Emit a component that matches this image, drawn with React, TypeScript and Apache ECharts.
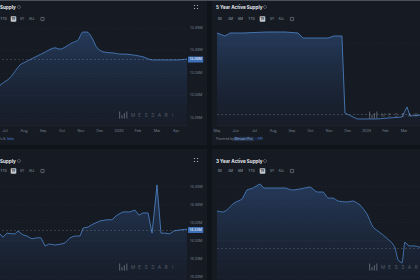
import React, { useEffect, useRef } from 'react';
import * as echarts from 'echarts';

// ---------------- Data ----------------
// Top-left: Supply (1Y view), x = months since Jul
const tlTitle = 'Supply';
const tlButtons = ['YTD', '1Y', '5Y', 'ALL'];
const tlMonths = ['Jun', 'Jul', 'Aug', 'Sep', 'Oct', 'Nov', 'Dec', '2020', 'Feb', 'Mar', 'Apr'];
const tlX = [-0.3, -0.26, 0.26, 0.79, 1.05, 1.47, 2.0, 2.63, 2.89, 3.53, 3.84, 4.1, 4.32, 4.58, 4.84, 5.16, 5.79, 6.05, 6.32, 6.74, 7.26, 7.74, 8.16, 9.05, 9.58];
const tlY = [13.318, 13.323, 13.339, 13.368, 13.374, 13.383, 13.394, 13.406, 13.403, 13.417, 13.423, 13.441, 13.441, 13.428, 13.406, 13.397, 13.394, 13.392, 13.392, 13.39, 13.386, 13.379, 13.379, 13.379, 13.381];

// Top-right: 5 Year Active Supply (1Y view), x = months since May
const trTitle = '5 Year Active Supply';
const trButtons = ['1M', '3M', '6M', 'YTD', '1Y', '5Y', 'ALL'];
const trMonths = ['May', 'Jun', 'Jul', 'Aug', 'Sep', 'Oct', 'Nov', 'Dec', '2024', 'Feb', 'Mar'];
const trX = [0, 0.43, 0.7, 1.39, 2.67, 3.64, 4.33, 4.6, 5.94, 6.26, 6.68, 6.84, 7.49, 8.56, 9.89, 10.16, 10.32, 10.96];
const trY = [12.141, 12.099, 12.141, 12.141, 12.155, 12.155, 12.141, 12.07, 12.07, 12.099, 12.099, 11.014, 10.93, 10.93, 10.958, 11.099, 10.972, 10.986];

// Bottom-left: Supply (1Y view)
const blTitle = 'Supply';
const blButtons = ['YTD', '1Y', '5Y', 'ALL'];
const blX = [-0.3, -0.26, -0.11, 0.11, 0.37, 0.53, 0.68, 0.95, 1.16, 1.42, 1.68, 1.89, 2.11, 2.32, 2.63, 3.0, 3.16, 3.42, 3.68, 3.95, 4.11, 4.37, 4.63, 5.0, 5.37, 5.63, 5.89, 6.21, 6.58, 6.84, 7.05, 7.26, 7.53, 7.74, 8.0, 8.21, 8.42, 8.68, 8.89, 9.21, 9.58];
const blY = [14.319, 14.319, 14.31, 14.321, 14.319, 14.319, 14.327, 14.316, 14.313, 14.305, 14.308, 14.308, 14.285, 14.291, 14.288, 14.291, 14.294, 14.308, 14.313, 14.313, 14.335, 14.338, 14.346, 14.355, 14.358, 14.358, 14.371, 14.38, 14.38, 14.385, 14.371, 14.377, 14.377, 14.321, 14.455, 14.321, 14.321, 14.319, 14.327, 14.33, 14.332];

// Bottom-right: 3 Year Active Supply (1Y view)
const brTitle = '3 Year Active Supply';
const brButtons = ['1M', '3M', '6M', 'YTD', '1Y', '5Y', 'ALL'];
const brX = [0, 0.32, 0.53, 0.91, 1.34, 1.6, 1.93, 2.3, 2.51, 2.99, 3.64, 4.01, 4.44, 4.97, 5.35, 5.67, 5.94, 6.2, 6.47, 6.95, 7.27, 7.65, 8.02, 8.34, 8.88, 9.36, 9.52, 9.68, 9.89, 10.05, 10.27, 10.59, 10.96];
const brY = [11.825, 11.797, 11.853, 12.047, 12.158, 12.408, 12.464, 12.575, 12.464, 12.464, 12.464, 12.408, 12.436, 12.492, 12.353, 12.353, 12.186, 12.186, 12.103, 12.075, 12.103, 11.992, 11.742, 11.381, 11.158, 10.936, 10.797, 10.464, 10.381, 10.964, 10.853, 10.853, 10.797];

const watermarkLetters = 'MESSARI';

// ---------------- Layout / style ----------------
const FONT = 'Inter, "Noto Sans", sans-serif';
const PAGE_BG = '#0f131a';
const PANEL_BG = '#151a23';
const LINE = '#4f86cc';

const panels: any[] = [
  {
    title: tlTitle, buttons: tlButtons, months: tlMonths, xs: tlX, ys: tlY,
    grid: { left: -14, top: 22, width: 201, height: 103 }, xMin: -1, xMax: 9.579,
    yMin: 13.2344, yMax: 13.4633, yStep: 0.05, showY: true, smooth: 0.25,
    rect: [-2, 1, 209, 144], titleX: 0, titleY: 7, iconX: 19, btnY: 19,
    btnX: [3.5, 13.5, 22, 32], calX: 42.5, hi: 1, expand: [196, 7], wm: [119, 115],
    footer: 'tl', footerY: 139,
  },
  {
    title: trTitle, buttons: trButtons, months: trMonths, xs: trX, ys: trY,
    grid: { left: 217, top: 25, width: 205, height: 100 }, xMin: 0, xMax: 10.96,
    yMin: 10.845, yMax: 12.2535, yStep: 1, showY: false, smooth: 0,
    rect: [212, 1, 210, 144], titleX: 216, titleY: 7, iconX: 265, btnY: 19,
    btnX: [219.5, 230.5, 240.5, 251.5, 262.5, 272, 281.5], calX: 292, hi: 4, expand: null, wm: [369, 115],
    footer: 'tr', footerY: 139,
  },
  {
    title: blTitle, buttons: blButtons, months: null, xs: blX, ys: blY,
    grid: { left: -14, top: 180, width: 201, height: 105 }, xMin: -1, xMax: 9.579,
    yMin: 14.1769, yMax: 14.4686, yStep: 0.05, showY: true, smooth: 0,
    rect: [-2, 149, 209, 135], titleX: 0, titleY: 161, iconX: 19, btnY: 171,
    btnX: [3.5, 13.5, 22, 32], calX: 42.5, hi: 1, expand: [196, 160], wm: [119, 267],
    footer: null,
  },
  {
    title: brTitle, buttons: brButtons, months: null, xs: brX, ys: brY,
    grid: { left: 217, top: 180, width: 205, height: 105 }, xMin: 0, xMax: 10.96,
    yMin: 9.769, yMax: 12.686, yStep: 0.5, showY: false, smooth: 0.15,
    rect: [212, 149, 210, 135], titleX: 216, titleY: 161, iconX: 265, btnY: 171,
    btnX: [219.5, 230.5, 240.5, 251.5, 262.5, 272, 281.5], calX: 292, hi: 4, expand: null, wm: [369, 267],
    footer: null,
  },
];

function txt(text: string, x: number, y: number, opts: any = {}) {
  return {
    type: 'text', x, y, z: 20, silent: true,
    style: {
      text, fill: opts.fill || '#9ba3af', fontSize: opts.size || 3.4,
      fontWeight: opts.weight || 'normal', fontFamily: FONT,
      align: opts.align || 'center', verticalAlign: 'middle',
    },
  };
}

function buildGraphics() {
  const g: any[] = [];
  g.push({ type: 'rect', z: 1, shape: { x: 0, y: 0, width: 420, height: 1 }, style: { fill: '#4b515b' } });
  panels.forEach((p) => {
    const [rx, ry, rw, rh] = p.rect;
    g.push({ type: 'rect', z: 0, silent: true, shape: { x: rx, y: ry, width: rw, height: rh }, style: { fill: PANEL_BG } });
    g.push(txt(p.title, p.titleX, p.titleY, { fill: '#e6e9ee', size: 4.6, weight: 'bold', align: 'left' }));
    g.push({ type: 'circle', z: 20, shape: { cx: p.iconX, cy: p.titleY, r: 1.5 }, style: { fill: 'none', stroke: '#8d95a1', lineWidth: 0.5 } });
    p.buttons.forEach((b: string, i: number) => {
      if (i === p.hi) {
        g.push({ type: 'rect', z: 19, shape: { x: p.btnX[i] - 2.8, y: p.btnY - 2.8, width: 5.6, height: 5.6, r: 0.8 }, style: { fill: '#c3c8d0' } });
        g.push(txt(b, p.btnX[i], p.btnY, { fill: '#151a23', size: 3.2, weight: 'bold' }));
      } else {
        g.push(txt(b, p.btnX[i], p.btnY, { size: 3.2 }));
      }
    });
    g.push({ type: 'rect', z: 20, shape: { x: p.calX - 1.6, y: p.btnY - 1.6, width: 3.2, height: 3.2, r: 0.3 }, style: { fill: 'none', stroke: '#9ba3af', lineWidth: 0.5 } });
    if (p.expand) {
      const [ex, ey] = p.expand;
      [[-2, -2], [1, -2], [-2, 1], [1, 1]].forEach(([dx, dy]) => {
        g.push({ type: 'rect', z: 20, shape: { x: ex + dx, y: ey + dy, width: 1.1, height: 1.1 }, style: { fill: '#aab1bc' } });
      });
    }
    // watermark
    const [wx, wy] = p.wm;
    const bars = [[0, 7], [2.4, 3.5], [4.8, 5.5], [7.2, 7]];
    bars.forEach(([dx, h]) => {
      g.push({ type: 'rect', z: 20, silent: true, shape: { x: wx + dx, y: wy + 3.5 - h, width: 1.2, height: h }, style: { fill: 'rgba(170,178,190,0.4)' } });
    });
    watermarkLetters.split('').forEach((ch, i) => {
      const cx = wx + 14 + i * 6.6;
      if (cx + 2.5 > 420) return; // beyond the screenshot's right edge
      g.push(txt(ch, cx, wy, { fill: 'rgba(170,178,190,0.4)', size: 5 }));
    });
    if (p.footer === 'tl') {
      g.push(txt('ls &', 0, p.footerY, { align: 'left', size: 3.2, fill: '#7c8593' }));
      g.push(txt('links', 7, p.footerY, { align: 'left', size: 3.2, fill: '#4f8fe0' }));
    } else if (p.footer === 'tr') {
      g.push(txt('Powered by', 216, p.footerY, { align: 'left', size: 3.2, fill: '#7c8593' }));
      g.push({ type: 'rect', z: 19, shape: { x: 233.5, y: p.footerY - 2.2, width: 20.5, height: 4.4, r: 0.6 }, style: { fill: '#243246' } });
      g.push(txt('Messari Pro', 234.5, p.footerY, { align: 'left', size: 3.2, fill: '#8fb3e6' }));
      g.push(txt('| API', 255.5, p.footerY, { align: 'left', size: 3.2, fill: '#4f8fe0' }));
    }
  });
  return g;
}

export default function App() {
  const ref = useRef<HTMLDivElement>(null);
  useEffect(() => {
    if (!ref.current) return;
    const chart = echarts.init(ref.current, null, { renderer: 'svg' });
    const option: any = {
      animation: false,
      backgroundColor: PAGE_BG,
      textStyle: { fontFamily: FONT },
      grid: panels.map((p) => ({ ...p.grid, containLabel: false, outerBoundsMode: 'none' })),
      xAxis: panels.map((p, i) => ({
        type: 'value', gridIndex: i, min: p.xMin, max: p.xMax, minInterval: 1, maxInterval: 1,
        splitLine: { show: false }, axisTick: { show: false },
        axisLine: { show: true, onZero: false, lineStyle: { color: 'rgba(255,255,255,0.08)', width: 0.5 } },
        axisLabel: {
          show: !!p.months, fontSize: 3.6, color: '#7c8593', margin: 4, fontFamily: FONT,
          showMinLabel: p.xMin >= 0, showMaxLabel: true,
          formatter: (v: number) => {
            if (!p.months || Math.abs(v - Math.round(v)) > 1e-6) return '';
            return p.months[Math.round(v) - p.xMin] ?? '';
          },
        },
      })),
      yAxis: panels.map((p, i) => ({
        type: 'value', gridIndex: i, position: 'right', min: p.yMin, max: p.yMax,
        minInterval: p.yStep, maxInterval: p.yStep, splitNumber: 5, scale: true,
        axisLine: { show: false }, axisTick: { show: false },
        axisLabel: {
          show: p.showY, fontSize: 3.6, color: '#7c8593', margin: 3, fontFamily: FONT,
          showMinLabel: false, showMaxLabel: false,
          formatter: (v: number) => v.toFixed(2) + 'M',
        },
        splitLine: { show: true, showMinLine: false, showMaxLine: false, lineStyle: { color: 'rgba(255,255,255,0.07)', type: [1.5, 1.5], width: 0.5 } },
      })),
      series: panels.map((p, i) => ({
        type: 'line', xAxisIndex: i, yAxisIndex: i, showSymbol: false, symbol: 'none', smooth: p.smooth,
        data: p.xs.map((x: number, j: number) => [x, p.ys[j]]),
        lineStyle: { color: LINE, width: 0.8 },
        areaStyle: {
          origin: 'start',
          color: new echarts.graphic.LinearGradient(0, 0, 0, 1, [
            { offset: 0, color: 'rgba(59,104,170,0.58)' },
            { offset: 1, color: 'rgba(40,60,100,0.12)' },
          ]),
        },
        markLine: {
          silent: true, symbol: ['none', 'none'],
          data: [{ yAxis: p.ys[p.ys.length - 1] }],
          lineStyle: { color: 'rgba(170,180,195,0.45)', type: [2, 2], width: 0.5 },
          label: {
            show: p.showY, position: 'end', distance: 1,
            formatter: (d: any) => Number(d.value).toFixed(2) + 'M',
            backgroundColor: '#3d70b8', color: '#ffffff', fontSize: 3.6, padding: [1, 1.5], borderRadius: 0.6,
            fontFamily: FONT,
          },
        },
      })),
      graphic: { elements: buildGraphics() },
    };
    chart.setOption(option);
    return () => chart.dispose();
  }, []);
  return <div ref={ref} style={{ position: 'absolute', left: 0, top: 0, width: 420, height: 280 }} />;
}
